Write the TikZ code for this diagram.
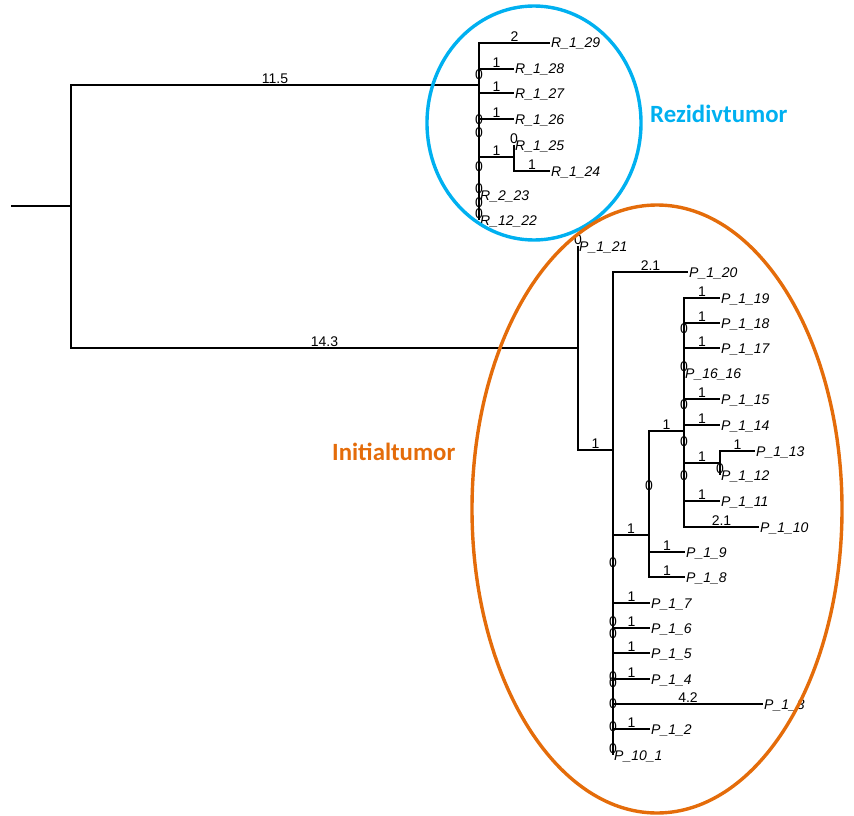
\documentclass[tikz,border=0pt]{standalone}
\usepackage{fontspec}
\setmainfont{Liberation Sans}
\newfontfamily\cladefont{Carlito}
\definecolor{rezblue}{HTML}{00B0F0}
\definecolor{initorange}{HTML}{E46C0A}

\begin{document}
\begin{tikzpicture}[
  x=1pt, y=-1pt,
  every node/.style={font=\fontsize{14}{16}\selectfont},
  branch/.style={line width=2.1pt},
  leaf/.style={anchor=west, inner sep=1pt, text height=10pt, text depth=0pt,
    font=\fontsize{14}{16}\selectfont\itshape},
  blen/.style={pos=0.75, anchor=south, inner sep=0.5pt},
  zerolab/.style={inner sep=0pt},
  clade/.style={line width=3.4pt},
  cladelabel/.style={anchor=west, inner sep=0pt, font=\cladefont\bfseries\fontsize{24.8}{28}\selectfont}
]
\useasboundingbox (0,0) rectangle (854,816);

% internal nodes
\coordinate (stub) at (11,206);
\coordinate (root) at (71,206);
\coordinate (nR)  at (479,85);
\coordinate (nR2) at (514,157);
\coordinate (nP)  at (578,348);
\coordinate (nP2) at (613,450);
\coordinate (nP3) at (649,535);
\coordinate (nP4) at (684,431);
\coordinate (nP5) at (720,463);

% leaves
\node[leaf] (R129) at (550,43)  {R\_1\_29};
\node[leaf] (R128) at (514,69)  {R\_1\_28};
\node[leaf] (R127) at (514,93)  {R\_1\_27};
\node[leaf] (R126) at (514,119) {R\_1\_26};
\node[leaf] (R125) at (514,145) {R\_1\_25};
\node[leaf] (R124) at (550,171) {R\_1\_24};
\node[leaf] (R223) at (479,195) {R\_2\_23};
\node[leaf] (R1222) at (479,220) {R\_12\_22};

\node[leaf] (P121) at (578,246) {P\_1\_21};
\node[leaf] (P120) at (688,272) {P\_1\_20};
\node[leaf] (P119) at (720,298) {P\_1\_19};
\node[leaf] (P118) at (720,323) {P\_1\_18};
\node[leaf] (P117) at (720,348) {P\_1\_17};
\node[leaf] (P1616) at (684,373) {P\_16\_16};
\node[leaf] (P115) at (720,399) {P\_1\_15};
\node[leaf] (P114) at (720,425) {P\_1\_14};
\node[leaf] (P113) at (755,451) {P\_1\_13};
\node[leaf] (P112) at (720,475) {P\_1\_12};
\node[leaf] (P111) at (720,501) {P\_1\_11};
\node[leaf] (P110) at (759,527) {P\_1\_10};
\node[leaf] (P19) at (685,552) {P\_1\_9};
\node[leaf] (P18) at (685,577) {P\_1\_8};
\node[leaf] (P17) at (650,603) {P\_1\_7};
\node[leaf] (P16) at (650,628) {P\_1\_6};
\node[leaf] (P15) at (650,653) {P\_1\_5};
\node[leaf] (P14) at (650,679) {P\_1\_4};
\node[leaf] (P13) at (763,704) {P\_1\_3};
\node[leaf] (P12) at (650,729) {P\_1\_2};
\node[leaf] (P101) at (613,755) {P\_10\_1};

% branches
\draw[branch] (stub) -- (root);
\draw[branch] (root) |- node[blen] {11.5} (nR);
\draw[branch] (root) |- node[blen] {14.3} (nP);

\draw[branch] (nR) |- node[blen] {2} (R129.west);
\draw[branch] (nR) |- node[blen] {1} (R128.west);
\draw[branch] (nR) |- node[blen] {1} (R127.west);
\draw[branch] (nR) |- node[blen] {1} (R126.west);
\draw[branch] (nR) |- node[blen] {1} (nR2);
\draw[branch] (nR2) |- node[blen] {0} (R125.west);
\draw[branch] (nR2) |- node[blen] {1} (R124.west);
\draw[branch] (nR) |- node[blen] {0} (R223.west);
\draw[branch] (nR) |- node[blen] {0} (R1222.west);

\draw[branch] (nP) |- node[blen] {0} (P121.west);
\draw[branch] (nP) |- node[blen] {1} (nP2);
\draw[branch] (nP2) |- node[blen] {2.1} (P120.west);
\draw[branch] (nP2) |- node[blen] {1} (nP3);
\draw[branch] (nP3) |- node[blen] {1} (nP4);
\draw[branch] (nP4) |- node[blen] {1} (P119.west);
\draw[branch] (nP4) |- node[blen] {1} (P118.west);
\draw[branch] (nP4) |- node[blen] {1} (P117.west);
\draw[branch] (nP4) |- node[blen] {0} (P1616.west);
\draw[branch] (nP4) |- node[blen] {1} (P115.west);
\draw[branch] (nP4) |- node[blen] {1} (P114.west);
\draw[branch] (nP4) |- node[blen] {1} (nP5);
\draw[branch] (nP5) |- node[blen] {1} (P113.west);
\draw[branch] (nP5) |- node[blen] {0} (P112.west);
\draw[branch] (nP4) |- node[blen] {1} (P111.west);
\draw[branch] (nP4) |- node[blen] {2.1} (P110.west);
\draw[branch] (nP3) |- node[blen] {1} (P19.west);
\draw[branch] (nP3) |- node[blen] {1} (P18.west);
\draw[branch] (nP2) |- node[blen] {1} (P17.west);
\draw[branch] (nP2) |- node[blen] {1} (P16.west);
\draw[branch] (nP2) |- node[blen] {1} (P15.west);
\draw[branch] (nP2) |- node[blen] {1} (P14.west);
\draw[branch] (nP2) |- node[blen] {4.2} (P13.west);
\draw[branch] (nP2) |- node[blen] {1} (P12.west);
\draw[branch] (nP2) |- node[blen] {0} (P101.west);

% zero-length inner branches
\foreach \x/\y [count=\i] in {479/75, 479/120, 479/133, 479/167, 479/203,
    684/329, 684/405, 684/442, 684/476, 649/486,
    613/563, 613/622, 613/634, 613/677, 613/683, 613/704, 613/727}
  \node[zerolab] (z\i) at (\x,\y) {0};

% clades
\draw[clade, rezblue] (534,123) ellipse [x radius=107, y radius=117];
\draw[clade, initorange] (657,509) ellipse [x radius=185, y radius=304];
\node[cladelabel, text=rezblue] (rez) at (650,114) {Rezidivtumor};
\node[cladelabel, text=initorange] (init) at (332,452) {Initialtumor};
\end{tikzpicture}
\end{document}
